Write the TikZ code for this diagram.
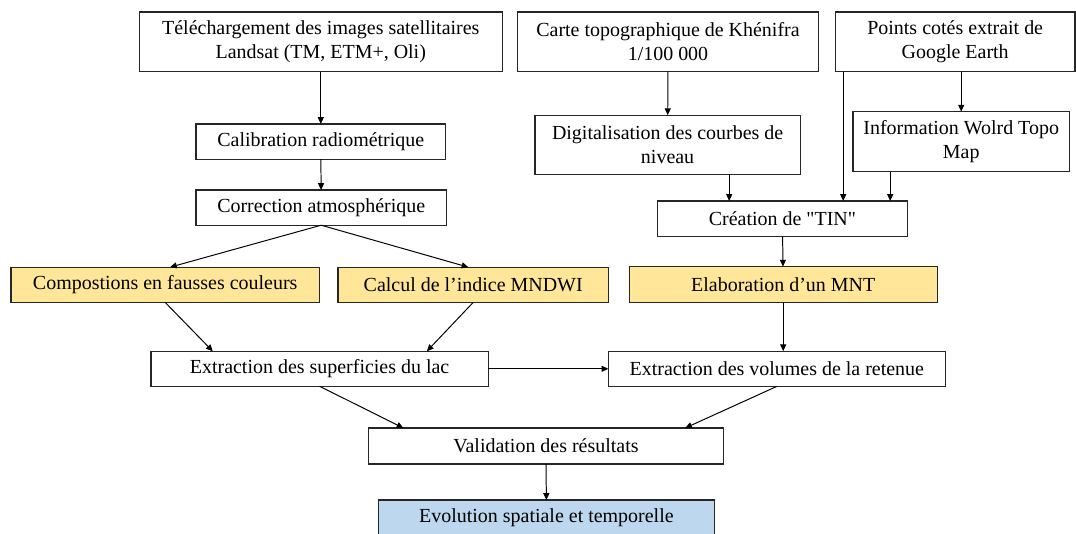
\documentclass[tikz,border=0pt]{standalone}
\usepackage{fontspec}
\setmainfont{Liberation Serif}
\usetikzlibrary{arrows.meta}
\definecolor{jaune}{HTML}{FFE699}
\definecolor{bleu}{HTML}{BDD7EE}
\begin{document}
\begin{tikzpicture}[>={Triangle[length=0.17cm, width=0.15cm]},
    box/.style={draw=black!85, line width=1pt, inner sep=0pt, outer sep=0pt, align=center,
        font=\fontsize{14.2}{17.3}\selectfont},
    yellowbox/.style={box, fill=jaune},
    bluebox/.style={box, fill=bleu},
    link/.style={->, line width=0.7pt}]
    \useasboundingbox (0,0) rectangle (26.9,-13.325);
    \clip (0,0) rectangle (26.9,-13.325);

    % Sources
    \node[box, minimum width=9.07cm, minimum height=1.49cm] (telech) at (8.02, -1.045) {Téléchargement des images satellitaires\\Landsat (TM, ETM+, Oli)};
    \node[box, minimum width=7.52cm, minimum height=1.49cm] (carte) at (16.70, -1.045) {Carte topographique de Khénifra\\1/100 000};
    \node[box, minimum width=5.98cm, minimum height=1.49cm] (points) at (23.88, -1.045) {Points cotés extrait de\\Google Earth};

    % Pretraitements
    \node[box, minimum width=6.24cm, minimum height=0.88cm] (calib) at (8.02, -3.54) {Calibration radiométrique};
    \node[box, minimum width=6.63cm, minimum height=1.48cm] (digit) at (16.69, -3.62) {Digitalisation des courbes de\\niveau};
    \node[box, minimum width=5.42cm, minimum height=1.50cm] (info) at (24.03, -3.54) {Information Wolrd Topo\\Map};
    \node[box, minimum width=6.27cm, minimum height=0.88cm] (correc) at (8.03, -5.19) {Correction atmosphérique};
    \node[box, minimum width=6.25cm, minimum height=0.89cm] (tin) at (19.56, -5.47) {Création de \textquotedbl TIN\textquotedbl};

    % Traitements
    \node[yellowbox, minimum width=7.71cm, minimum height=0.88cm] (compo) at (4.13, -7.12) {Compostions en fausses couleurs};
    \node[yellowbox, minimum width=6.77cm, minimum height=0.88cm] (mndwi) at (11.83, -7.12) {Calcul de l’indice MNDWI};
    \node[yellowbox, minimum width=7.70cm, minimum height=0.89cm] (mnt) at (19.58, -7.11) {Elaboration d’un MNT};

    % Extraction
    \node[box, minimum width=8.44cm, minimum height=0.875cm] (superf) at (7.99, -9.22) {Extraction des superficies du lac};
    \node[box, minimum width=8.42cm, minimum height=0.88cm] (volumes) at (19.42, -9.22) {Extraction des volumes de la retenue};

    % Resultats
    \node[box, minimum width=8.88cm, minimum height=0.90cm] (valid) at (13.65, -11.15) {Validation des résultats};
    \node[bluebox, minimum width=8.40cm, minimum height=0.90cm] (evol) at (13.66, -12.95) {Evolution spatiale et temporelle};

    % Fleches
    \draw[link] (telech) -- (calib);
    \draw[link] (calib) -- (correc);
    \draw[link] (correc.south) -- ([xshift=0.12cm]compo.north);
    \draw[link] (correc.south) -- ([xshift=-0.12cm]mndwi.north);
    \draw[link] (carte) -- (digit);
    \draw[link] (info.north |- points.south) -- (info.north);
    \draw[link] ([xshift=0.19cm]points.south west) -- ([xshift=0.19cm]points.south west |- tin.north);
    \draw[link] ([xshift=1.54cm]digit.south) -- ([xshift=1.54cm]digit.south |- tin.north);
    \draw[link] ([xshift=-0.43cm]tin.north east |- info.south) -- ([xshift=-0.43cm]tin.north east);
    \draw[link] (tin) -- (mnt);
    \draw[link] (mnt.south) -- (mnt.south |- volumes.north);
    \draw[link] (compo.south) -- ([xshift=1.55cm]superf.north west);
    \draw[link] (mndwi.south) -- ([xshift=-1.54cm]superf.north east);
    \draw[link] (superf) -- (volumes);
    \draw[link] (superf.south) -- ([xshift=0.875cm]valid.north west);
    \draw[link] (volumes.south) -- ([xshift=-0.96cm]valid.north east);
    \draw[link] (valid.south) -- (evol.north);
\end{tikzpicture}
\end{document}
